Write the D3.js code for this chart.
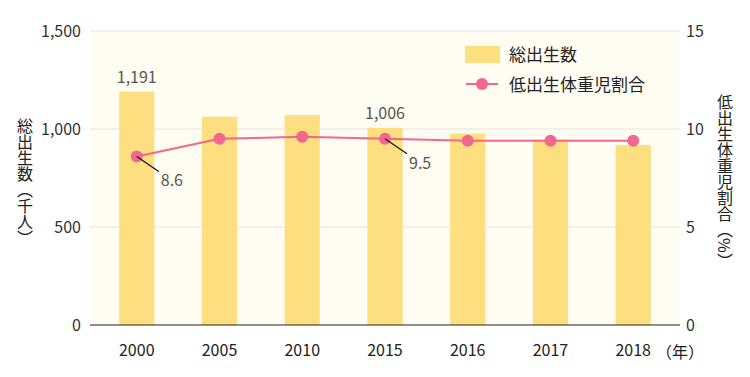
<!DOCTYPE html>
<html>
<head>
<meta charset="utf-8">
<script src="https://cdn.jsdelivr.net/npm/d3@7"></script>
<style>
body { margin: 0; background: #fff; }
text { font-family: "Noto Sans CJK JP", "Noto Sans", sans-serif; }
</style>
</head>
<body>
<svg id="chart" width="750" height="377"></svg>
<script>
var years = ['2000', '2005', '2010', '2015', '2016', '2017', '2018'];
var births = [1191, 1063, 1071, 1006, 977, 946, 918];
var lowWeight = [8.6, 9.5, 9.6, 9.5, 9.4, 9.4, 9.4];
var leftTicks = [0, 500, 1000, 1500];
var rightTicks = [0, 5, 10, 15];

var svg = d3.select('#chart');

var plotLeft = 90, plotRight = 680, plotTop = 31, plotBottom = 325;

var x = d3.scaleBand()
	.domain(years)
	.range([96, 674])
	.paddingInner(0.575)
	.paddingOuter(0.28);

var yL = d3.scaleLinear().domain([0, 1500]).range([plotBottom, plotTop]);
var yR = d3.scaleLinear().domain([0, 15]).range([plotBottom, plotTop]);

// background
svg.append('rect')
	.attr('x', plotLeft).attr('y', plotTop)
	.attr('width', plotRight - plotLeft).attr('height', plotBottom - plotTop)
	.attr('fill', '#fffcf2');

// gridlines
svg.selectAll('.grid').data(leftTicks.slice(1)).enter()
	.append('line')
	.attr('x1', plotLeft).attr('x2', plotRight)
	.attr('y1', function(d) { return yL(d); })
	.attr('y2', function(d) { return yL(d); })
	.attr('stroke', '#e3e3e3').attr('stroke-width', 1);

// bars
svg.selectAll('.bar').data(births).enter()
	.append('rect')
	.attr('x', function(d, i) { return x(years[i]); })
	.attr('y', function(d) { return yL(d); })
	.attr('width', x.bandwidth())
	.attr('height', function(d) { return plotBottom - yL(d); })
	.attr('fill', '#fddf80');

// baseline
svg.append('line')
	.attr('x1', plotLeft).attr('x2', plotRight)
	.attr('y1', plotBottom).attr('y2', plotBottom)
	.attr('stroke', '#222').attr('stroke-width', 1.2);

// left axis
var axL = svg.append('g').attr('transform', 'translate(' + (plotLeft - 6) + ',0)')
	.call(d3.axisLeft(yL).tickValues(leftTicks).tickSize(0).tickFormat(d3.format(',')));
axL.select('.domain').remove();
axL.selectAll('text').attr('font-size', 16).attr('fill', '#333')
	.style('font-family', '"Noto Sans CJK JP", sans-serif');

// right axis
var axR = svg.append('g').attr('transform', 'translate(' + (plotRight + 3) + ',0)')
	.call(d3.axisRight(yR).tickValues(rightTicks).tickSize(0));
axR.select('.domain').remove();
axR.selectAll('text').attr('font-size', 16).attr('fill', '#333')
	.style('font-family', '"Noto Sans CJK JP", sans-serif');

// x axis
var axX = svg.append('g').attr('transform', 'translate(0,' + (plotBottom + 17) + ')')
	.call(d3.axisBottom(x).tickSize(0));
axX.select('.domain').remove();
axX.selectAll('text').attr('font-size', 16).attr('fill', '#222')
	.style('font-family', '"Noto Sans CJK JP", sans-serif');

svg.append('text')
	.attr('x', 656).attr('y', 358)
	.attr('font-size', 16).attr('fill', '#222')
	.text('（年）');

// axis titles (vertical)
svg.append('text')
	.attr('x', 25).attr('y', 118)
	.attr('font-size', 16).attr('fill', '#222')
	.style('writing-mode', 'vertical-rl')
	.text('総出生数（千人）');

svg.append('text')
	.attr('x', 725).attr('y', 94)
	.attr('font-size', 16).attr('fill', '#222')
	.style('writing-mode', 'vertical-rl')
	.text('低出生体重児割合（%）');

// line
var cx = function(i) { return x(years[i]) + x.bandwidth() / 2; };
var line = d3.line()
	.x(function(d, i) { return cx(i); })
	.y(function(d) { return yR(d); });

svg.append('path')
	.datum(lowWeight)
	.attr('d', line)
	.attr('fill', 'none')
	.attr('stroke', '#f2678f')
	.attr('stroke-width', 2);

svg.selectAll('.dot').data(lowWeight).enter()
	.append('circle')
	.attr('cx', function(d, i) { return cx(i); })
	.attr('cy', function(d) { return yR(d); })
	.attr('r', 6)
	.attr('fill', '#f2678f');

// value labels
var barLabels = [0, 3];
barLabels.forEach(function(i) {
	svg.append('text')
		.attr('x', cx(i)).attr('y', yL(births[i]) - 9)
		.attr('text-anchor', 'middle')
		.attr('font-size', 16).attr('fill', '#555')
		.text(d3.format(',')(births[i]));
});

var lineLabels = [0, 3];
lineLabels.forEach(function(i) {
	var px = cx(i), py = yR(lowWeight[i]);
	svg.append('line')
		.attr('x1', px).attr('y1', py)
		.attr('x2', px + 22).attr('y2', py + 15)
		.attr('stroke', '#111').attr('stroke-width', 1.2);
	svg.append('text')
		.attr('x', px + 24).attr('y', py + 30)
		.attr('font-size', 16).attr('fill', '#555')
		.text(lowWeight[i]);
});

// legend
var lg = svg.append('g');
lg.append('rect')
	.attr('x', 465).attr('y', 46).attr('width', 35).attr('height', 17)
	.attr('fill', '#fddf80');
lg.append('text')
	.attr('x', 509).attr('y', 61)
	.attr('font-size', 17).attr('fill', '#222')
	.text('総出生数');
lg.append('line')
	.attr('x1', 466).attr('x2', 498).attr('y1', 84).attr('y2', 84)
	.attr('stroke', '#f2678f').attr('stroke-width', 2);
lg.append('circle')
	.attr('cx', 482).attr('cy', 84).attr('r', 6)
	.attr('fill', '#f2678f');
lg.append('text')
	.attr('x', 509).attr('y', 91)
	.attr('font-size', 17).attr('fill', '#222')
	.text('低出生体重児割合');
</script>
</body>
</html>
